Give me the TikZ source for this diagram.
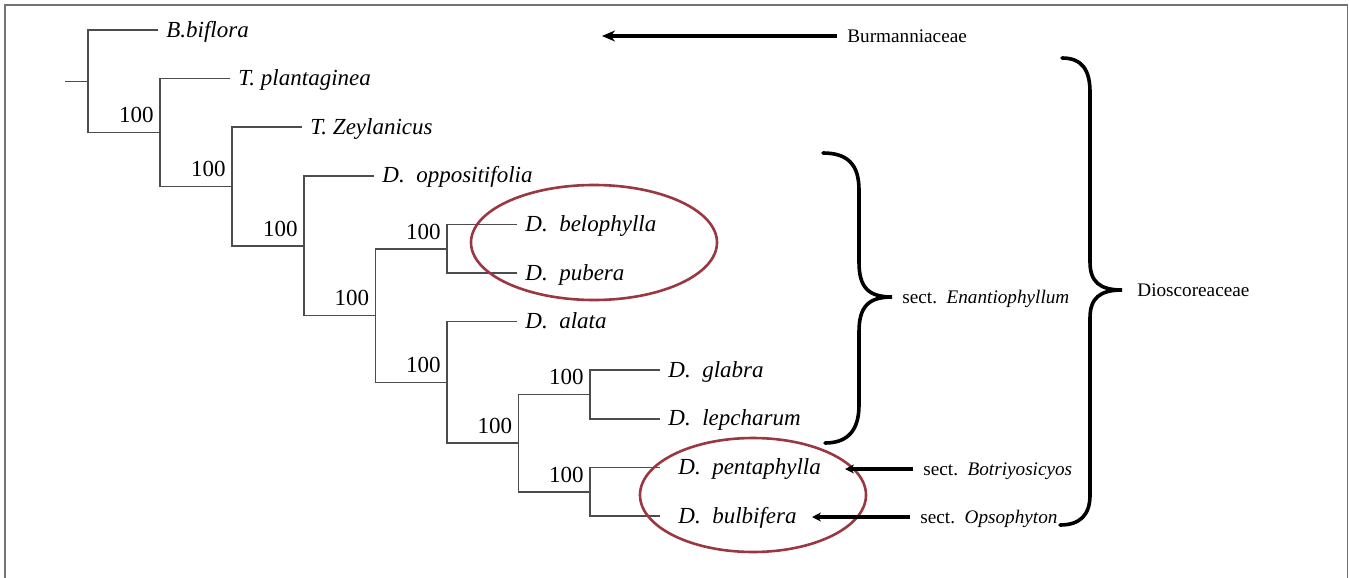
\documentclass[tikz,border=0pt]{standalone}
\usepackage{fontspec}
\setmainfont{Liberation Serif}
\usetikzlibrary{arrows.meta}

\definecolor{cladered}{RGB}{155,55,65}

\tikzset{
  branch/.style={draw=black!70, line width=0.8pt},
  leaf/.style={anchor=west, inner xsep=4pt, text height=7pt, text depth=0pt, font=\fontsize{11.5}{13}\selectfont\itshape},
  boot/.style={anchor=south east, inner sep=2pt, yshift=2.5pt, xshift=-1pt, font=\fontsize{11.5}{13}\selectfont},
  clade/.style={draw=cladered, line width=1.3pt},
  brace/.style={line width=1.8pt, line cap=round},
  pointer/.style={line width=1.7pt, -{Stealth[length=6.5pt,width=5.5pt]}},
  sectlabel/.style={anchor=west, inner xsep=5pt, text height=6.5pt, text depth=0pt, font=\fontsize{9.6}{11}\selectfont},
}

\begin{document}
\begin{tikzpicture}[x=0.5pt, y=-0.5pt]
    \useasboundingbox (0,0) rectangle (1349,578);
    \draw[black!55, line width=0.8pt] (5,578) -- (5,5) -- (1347.5,5) -- (1347.5,578);

    \coordinate (root) at (65,81.3);
    \coordinate (n1) at (88,81.3);
    \coordinate (n2) at (160,132.5);
    \coordinate (n3) at (232,186.4);
    \coordinate (n4) at (304,245.7);
    \coordinate (n5) at (375.5,315.5);
    \coordinate (n6) at (447,248.7);
    \coordinate (n7) at (447,382.4);
    \coordinate (n8) at (518.5,443.1);
    \coordinate (n9) at (590,394.5);
    \coordinate (n10) at (590,491.7);

    \foreach \name/\x/\y/\pad/\txt in {
        biflora/88/30/4/{B.biflora},
        plantaginea/160/78.6/4/{T. plantaginea},
        zeylanicus/232/127.2/4/{T. Zeylanicus},
        oppositifolia/304/175.8/4/{D.\enspace oppositifolia},
        belophylla/447/224.4/4/{D.\enspace belophylla},
        pubera/447/273/4/{D.\enspace pubera},
        alata/447/321.6/4/{D.\enspace alata},
        glabra/590/370.2/4/{D.\enspace glabra},
        lepcharum/590/418.8/4/{D.\enspace lepcharum},
        pentaphylla/590/467.4/9/{D.\enspace pentaphylla},
        bulbifera/590/516/9/{D.\enspace bulbifera}}
        \node[leaf, inner xsep=\pad pt] (\name) at ({\x+70},\y) {\txt};

    \draw[branch] (root) -- (n1);
    \foreach \a/\b in {n1/biflora.west, n1/n2, n2/plantaginea.west, n2/n3,
        n3/zeylanicus.west, n3/n4, n4/oppositifolia.west, n4/n5, n5/n6, n5/n7,
        n6/belophylla.west, n6/pubera.west, n7/alata.west, n7/n8, n8/n9, n8/n10,
        n9/glabra.west, n9/lepcharum.west, n10/pentaphylla.west, n10/bulbifera.west}
        \draw[branch] (\a) |- (\b);

    \foreach \n in {n2,n3,n4,n5,n6,n7,n8,n9,n10}
        \node[boot] (b\n) at (\n) {100};

    \draw[clade] (594,242.5) ellipse [x radius=123, y radius=57.5];
    \draw[clade] (753,495) ellipse [x radius=113, y radius=57];

    \coordinate (enTip) at (892,297);
    \coordinate (dioTip) at (1122,290);
    \draw[brace] (823,153) .. controls (848,153) and (859,165) .. (859,190) -- (859,262)
        .. controls (859,287) and (868,297) .. (enTip)
        .. controls (868,297) and (859,307) .. (859,332) -- (859,405)
        .. controls (859,430) and (848,443) .. (825,443);
    \draw[brace] (1062,58) .. controls (1082,58) and (1090,70) .. (1090,92) -- (1090,262)
        .. controls (1090,282) and (1100,290) .. (dioTip)
        .. controls (1100,290) and (1090,298) .. (1090,318) -- (1090,495)
        .. controls (1090,515) and (1080,525) .. (1060,525);

    \node[sectlabel] (enant) at (enTip) {sect.\enspace\textit{Enantiophyllum}};
    \node[sectlabel, xshift=2.5pt] (dios) at (dioTip) {Dioscoreaceae};

    \node[sectlabel] (burm) at (837,36) {Burmanniaceae};
    \coordinate (burmTip) at (602,36);
    \draw[pointer] (burm.west) -- (burmTip);

    \node[sectlabel] (botri) at (913,469) {sect.\enspace\textit{Botriyosicyos}};
    \coordinate (botriTip) at (845,469);
    \draw[pointer, -{Stealth[length=4.5pt,width=4.5pt]}] (botri.west) -- (botriTip);

    \node[sectlabel] (opso) at (910,517) {sect.\enspace\textit{Opsophyton}};
    \coordinate (opsoTip) at (812,517);
    \draw[pointer, -{Stealth[length=4.5pt,width=4.5pt]}] (opso.west) -- (opsoTip);
\end{tikzpicture}
\end{document}
